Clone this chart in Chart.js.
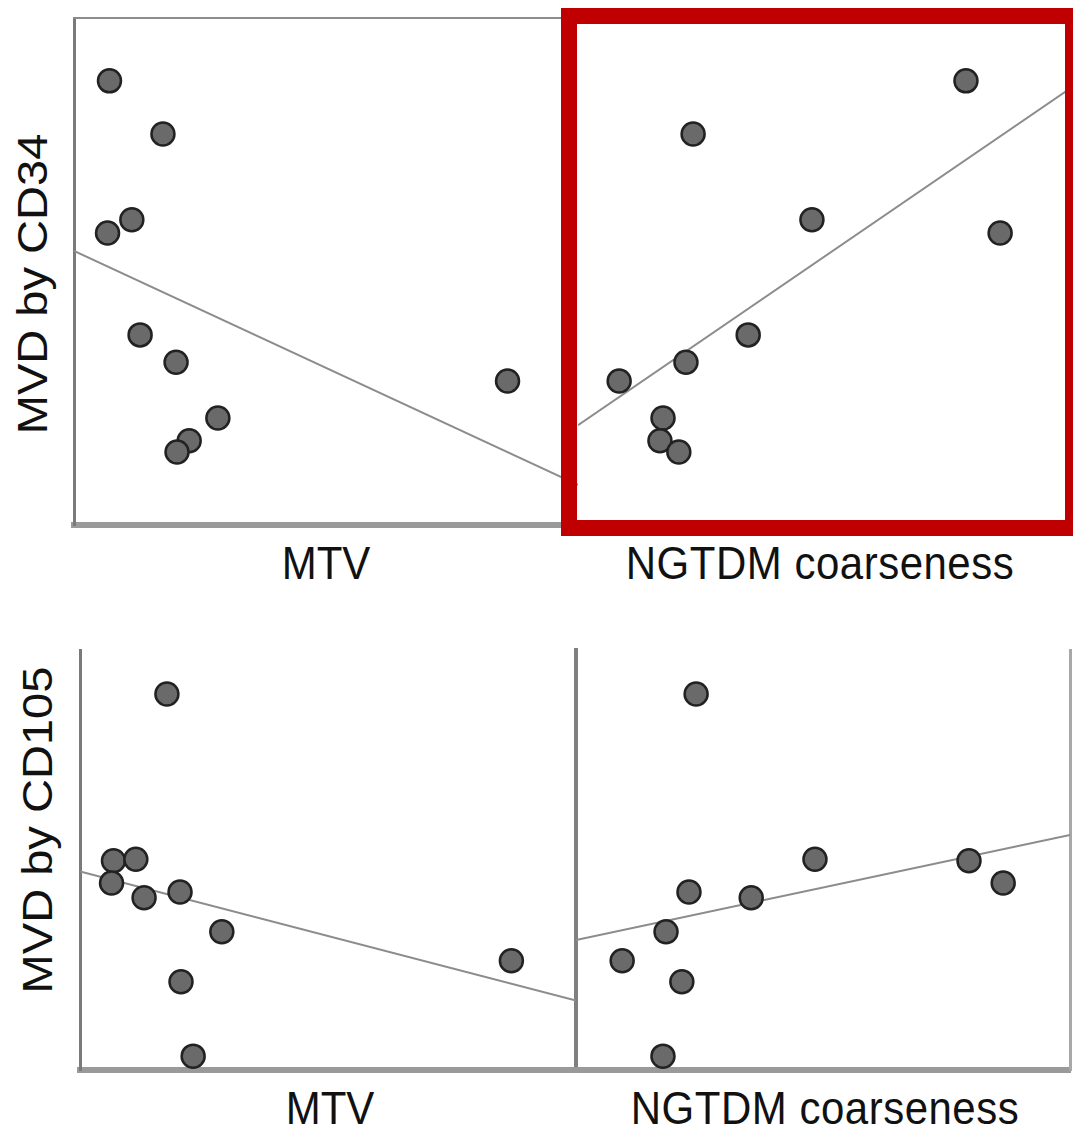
<!DOCTYPE html>
<html lang="en">
<head>
  <meta charset="UTF-8">
  <meta name="viewport" content="width=device-width, initial-scale=1.0">
  <title>MVD vs MTV and NGTDM coarseness</title>
  <script src="https://cdn.jsdelivr.net/npm/chart.js"></script>
  <style>
    body {
      margin: 0;
      background-color: #fff;
      font-family: 'Liberation Sans', Arial, sans-serif;
    }

    #page {
      position: relative;
      width: 1073px;
      height: 1128px;
      overflow: hidden;
    }

    canvas {
      position: absolute;
      z-index: 1;
    }

    .label {
      position: absolute;
      font-size: 42px;
      line-height: 1;
      color: #111;
      white-space: nowrap;
      transform: translate(-50%, -50%) scale(1, 1.12);
    }

    .label.wide {
      letter-spacing: 0.5px;
    }

    .label.vertical {
      transform: translate(-50%, -50%) rotate(-90deg) scale(1.12, 1);
    }

    #highlight {
      position: absolute;
      z-index: 2;
      left: 561px;
      top: 8px;
      width: 520px;
      height: 528px;
      border: 16px solid #c00000;
      box-sizing: border-box;
    }
  </style>
</head>
<body>
  <div id="page">
    <canvas id="cd34Mtv" width="580" height="530" style="left:0;top:0"></canvas>
    <canvas id="cd34Coarse" width="503" height="530" style="left:570px;top:0"></canvas>
    <canvas id="cd105Mtv" width="580" height="440" style="left:0;top:640px"></canvas>
    <canvas id="cd105Coarse" width="507" height="440" style="left:566px;top:640px"></canvas>

    <div id="highlight"></div>

    <div class="label vertical" style="left:33px;top:284px">MVD by CD34</div>
    <div class="label" style="left:326px;top:563px">MTV</div>
    <div class="label wide" style="left:820px;top:563px">NGTDM coarseness</div>

    <div class="label vertical" style="left:38px;top:830px">MVD by CD105</div>
    <div class="label" style="left:330px;top:1108px">MTV</div>
    <div class="label wide" style="left:825px;top:1108px">NGTDM coarseness</div>
  </div>

  <script>
    // one entry per patient, same order in every array
    const mtv        = [7.3, 18.3, 11.9, 6.9, 13.6, 21.0, 89.2, 29.6, 23.7, 21.2];
    const coarseness = [79.6, 26.1, 49.4, 86.3, 36.9, 24.7, 11.6, 20.2, 19.6, 23.3];
    const mvdCd34    = [87.6, 77.1, 60.2, 57.6, 37.5, 32.1, 28.4, 21.1, 16.6, 14.4];
    const mvdCd105   = [49.8, 89.5, 50.2, 44.5, 41.0, 42.4, 26.0, 32.9, 3.3, 21.0];

    // least squares line across the visible x range
    function fitLine(xs, ys, xMin, xMax) {
      const n = xs.length;
      const mx = xs.reduce((a, b) => a + b, 0) / n;
      const my = ys.reduce((a, b) => a + b, 0) / n;
      let sxy = 0, sxx = 0;
      for (let i = 0; i < n; i++) {
        sxy += (xs[i] - mx) * (ys[i] - my);
        sxx += (xs[i] - mx) * (xs[i] - mx);
      }
      const slope = sxy / sxx;
      const icpt = my - slope * mx;
      return [
        { x: xMin, y: icpt + slope * xMin },
        { x: xMax, y: icpt + slope * xMax }
      ];
    }

    function axis(position, range, border) {
      return {
        type: 'linear',
        position: position,
        min: range[0],
        max: range[1],
        display: !!border,
        ticks: { display: false },
        grid: { display: false, drawTicks: false },
        border: border ? { display: true, color: border.color, width: border.width } : { display: false }
      };
    }

    function drawPanel(id, xs, ys, xRange, yRange, padding, borders) {
      const scales = {
        x: axis('bottom', xRange, borders.bottom),
        y: axis('left', yRange, borders.left)
      };
      if (borders.top) scales.xTop = axis('top', [0, 1], borders.top);
      if (borders.right) scales.yRight = axis('right', [0, 1], borders.right);

      const ctx = document.getElementById(id).getContext('2d');
      return new Chart(ctx, {
        type: 'scatter',
        data: {
          datasets: [{
            data: xs.map((x, i) => ({ x: x, y: ys[i] })),
            backgroundColor: '#6a6a6a',
            borderColor: '#222',
            borderWidth: 2.5,
            pointRadius: 11.5,
            clip: false
          }, {
            type: 'line',
            data: fitLine(xs, ys, xRange[0], xRange[1]),
            borderColor: '#8c8c8c',
            borderWidth: 2,
            pointRadius: 0,
            fill: false,
            clip: 0
          }]
        },
        options: {
          responsive: false,
          animation: false,
          events: [],
          layout: { autoPadding: false, padding: padding },
          plugins: {
            legend: { display: false },
            tooltip: { enabled: false }
          },
          scales: scales
        }
      });
    }

    const bottomAxis = { color: '#9a9a9a', width: 6 };
    const sideAxis = { color: '#7a7a7a', width: 3 };

    drawPanel('cd34Mtv', mtv, mvdCd34, [0, 103.7], [0, 100],
      { left: 74, top: 18, right: 2, bottom: 5 },
      { bottom: bottomAxis, left: sideAxis, top: { color: '#8c8c8c', width: 2 } });

    drawPanel('cd34Coarse', coarseness, mvdCd34, [3.53, 100], [0, 100],
      { left: 8, top: 18, right: 3, bottom: 5 },
      {});

    drawPanel('cd105Mtv', mtv, mvdCd105, [0.41, 102.5], [0, 100],
      { left: 80, top: 10, right: 4, bottom: 10 },
      { bottom: bottomAxis, left: sideAxis, right: { color: '#808080', width: 4 } });

    drawPanel('cd105Coarse', coarseness, mvdCd105, [2.55, 99.4], [0, 100],
      { left: 10, top: 10, right: 3, bottom: 10 },
      { bottom: bottomAxis, right: { color: '#a8a8a8', width: 3 } });
  </script>
</body>
</html>
